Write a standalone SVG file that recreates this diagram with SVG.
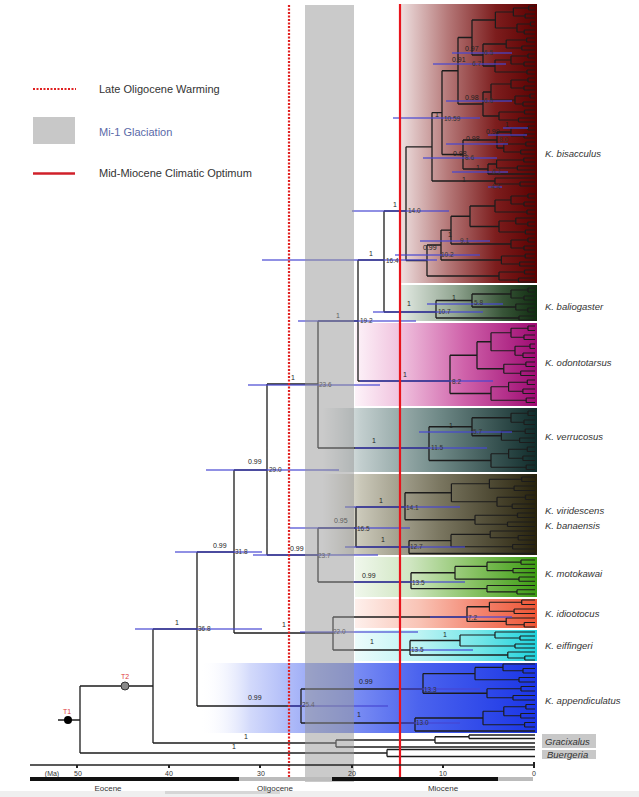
<svg xmlns="http://www.w3.org/2000/svg" xmlns:xlink="http://www.w3.org/1999/xlink" width="639" height="797" viewBox="0 0 639 797">
<style>
.br{fill:none;stroke:#1c1c1c;stroke-width:1.3}
.tp{fill:none;stroke:#1c1c1c;stroke-width:1.2;vector-effect:non-scaling-stroke}
.hpd{fill:none;stroke:#4646d2;stroke-width:2;opacity:.6}
.sup{font-family:"Liberation Sans",Arial,sans-serif;font-size:7px;fill:#222}
.age{font-family:"Liberation Sans",Arial,sans-serif;font-size:6.5px;fill:#333}
.cl{font-family:"Liberation Sans",Arial,sans-serif;font-size:9.5px;font-style:italic;fill:#333}
.leg{font-family:"Liberation Sans",Arial,sans-serif;font-size:11px;fill:#333}
.ax{font-family:"Liberation Sans",Arial,sans-serif;font-size:7px;fill:#333;text-anchor:middle}
.ep{font-family:"Liberation Sans",Arial,sans-serif;font-size:8px;fill:#333;text-anchor:middle}
.tl{font-family:"Liberation Sans",Arial,sans-serif;font-size:7px;fill:#e03c3c;text-anchor:middle}
</style>
<defs>
<linearGradient id="gBis" gradientUnits="userSpaceOnUse" x1="400" y1="0" x2="537" y2="0"><stop offset="0" stop-color="#efe1e1"/><stop offset=".35" stop-color="#b57878"/><stop offset=".7" stop-color="#7c1d1d"/><stop offset="1" stop-color="#5c0000"/></linearGradient>
<linearGradient id="gBal" gradientUnits="userSpaceOnUse" x1="400" y1="0" x2="537" y2="0"><stop offset="0" stop-color="#e4ebe4"/><stop offset=".4" stop-color="#92a692"/><stop offset=".75" stop-color="#385538"/><stop offset="1" stop-color="#0f2c0f"/></linearGradient>
<linearGradient id="gOdo" gradientUnits="userSpaceOnUse" x1="355" y1="0" x2="537" y2="0"><stop offset="0" stop-color="#fdf3f9"/><stop offset=".25" stop-color="#f0c2de"/><stop offset=".6" stop-color="#cf62aa"/><stop offset="1" stop-color="#9e0a72"/></linearGradient>
<linearGradient id="gVer" gradientUnits="userSpaceOnUse" x1="322" y1="0" x2="537" y2="0"><stop offset="0" stop-color="#c8d2d2" stop-opacity="0"/><stop offset=".18" stop-color="#c2cece"/><stop offset=".55" stop-color="#6e8886"/><stop offset="1" stop-color="#0f2b2a"/></linearGradient>
<linearGradient id="gVir" gradientUnits="userSpaceOnUse" x1="322" y1="0" x2="537" y2="0"><stop offset="0" stop-color="#cfcdc0" stop-opacity="0"/><stop offset=".18" stop-color="#c9c7b8"/><stop offset=".55" stop-color="#7a7660"/><stop offset="1" stop-color="#27220c"/></linearGradient>
<linearGradient id="gMot" gradientUnits="userSpaceOnUse" x1="355" y1="0" x2="537" y2="0"><stop offset="0" stop-color="#f0f7ec"/><stop offset=".3" stop-color="#d0e6c2"/><stop offset=".65" stop-color="#88c264"/><stop offset="1" stop-color="#3c9c12"/></linearGradient>
<linearGradient id="gIdi" gradientUnits="userSpaceOnUse" x1="355" y1="0" x2="537" y2="0"><stop offset="0" stop-color="#fef0ec"/><stop offset=".35" stop-color="#f9c4b6"/><stop offset=".7" stop-color="#f3826c"/><stop offset="1" stop-color="#ee5434"/></linearGradient>
<linearGradient id="gEif" gradientUnits="userSpaceOnUse" x1="355" y1="0" x2="537" y2="0"><stop offset="0" stop-color="#ecfcfc"/><stop offset=".35" stop-color="#bdf3f3"/><stop offset=".7" stop-color="#6fe5e7"/><stop offset="1" stop-color="#1ed3dd"/></linearGradient>
<linearGradient id="gApp" gradientUnits="userSpaceOnUse" x1="200" y1="0" x2="537" y2="0"><stop offset="0" stop-color="#ffffff" stop-opacity="0"/><stop offset=".15" stop-color="#d2d9fb"/><stop offset=".35" stop-color="#95a5f6"/><stop offset=".65" stop-color="#4b63ee"/><stop offset="1" stop-color="#1a35e6"/></linearGradient>
<path id="t2" class="tp" d="M-8 0H0M-8 4H0M-8 0V4"/>
<path id="t3" class="tp" d="M-16 0H0M-6 4H0M-6 8H0M-6 4V8M-16 6H-6M-16 0V6"/>
<path id="t4" class="tp" d="M-7 0H0M-7 4H0M-7 0V4M-11 8H0M-11 12H0M-11 8V12M-24 2H-7M-24 10H-11M-24 2V10"/>
<path id="t5" class="tp" d="M-16 0H0M-6 4H0M-6 8H0M-6 4V8M-16 6H-6M-16 0V6M-8 12H0M-8 16H0M-8 12V16M-30 3H-16M-30 14H-8M-30 3V14"/>
<path id="t6" class="tp" d="M-7 0H0M-7 4H0M-7 0V4M-11 8H0M-11 12H0M-11 8V12M-24 2H-7M-24 10H-11M-24 2V10M-8 16H0M-8 20H0M-8 16V20M-40 6H-24M-40 18H-8M-40 6V18"/>
<path id="t8" class="tp" d="M-7 0H0M-7 4H0M-7 0V4M-11 8H0M-11 12H0M-11 8V12M-24 2H-7M-24 10H-11M-24 2V10M-5 16H0M-5 20H0M-5 16V20M-12 24H0M-12 28H0M-12 24V28M-20 18H-5M-20 26H-12M-20 18V26M-44 6H-24M-44 22H-20M-44 6V22"/>
</defs>
<rect x="0" y="0" width="639" height="797" fill="#ffffff"/>

<g id="clade-bisacculus">
<rect x="400" y="4" width="137" height="279" fill="url(#gBis)"/>
<use href="#t8" transform="translate(535 6) scale(0.9 1)"/>
<use href="#t4" transform="translate(535 38) scale(1.2 1)"/>
<use href="#t6" transform="translate(535 54)"/>
<use href="#t8" transform="translate(535 78)"/>
<use href="#t4" transform="translate(535 110) scale(1.5 1)"/>
<use href="#t4" transform="translate(535 126)"/>
<use href="#t4" transform="translate(535 142) scale(1.3 1)"/>
<use href="#t4" transform="translate(535 158) scale(1.6 1)"/>
<use href="#t3" transform="translate(535 178) scale(2.5 1)"/>
<use href="#t6" transform="translate(535 194)"/>
<use href="#t5" transform="translate(535 218) scale(1.2 1)"/>
<use href="#t4" transform="translate(535 238)"/>
<use href="#t4" transform="translate(535 254) scale(1.4 1)"/>
<use href="#t4" transform="translate(535 270) scale(1.5 1)"/>
<path class="br" d="M483 44V66M483 44H506.2M483 66H495M472 20V55M472 20H495.4M472 55H483M483 92V116M483 92H491M483 116H499M458 37.5V104M458 37.5H472M458 104H483M497 132V148M497 132H511M497 148H503.8M488 164V174M488 164H496.6M488 174H535M463 140V169M463 140H497M463 169H488M442 70.75V154.5M442 70.75H458M442 154.5H463M432 112.6V181M432 112.6H442M432 181H495M470 206V226.5M470 206H495M470 226.5H499M451 216.25V244M451 216.25H470M451 244H511M441 230.1V260M441 230.1H451M441 260H501.4M427 245V276M427 245H441M427 276H499M406 146.8V260.5M406 146.8H432M406 260.5H427"/>
<text class="cl" x="545" y="157">K. bisacculus</text>
</g>

<g id="clade-baliogaster">
<rect x="400" y="285" width="137" height="36" fill="url(#gBal)"/>
<use href="#t4" transform="translate(535 288)"/>
<use href="#t3" transform="translate(535 304) scale(1.2 1)"/>
<use href="#t2" transform="translate(535 316) scale(2 1)"/>
<path class="br" d="M472 294V307M472 294H511M472 307H515.8M436 300.5V318M436 300.5H472M436 318H519"/>
<text class="cl" x="545" y="310">K. baliogaster</text>
</g>

<g id="clade-odontotarsus">
<rect x="355" y="323" width="182" height="83" fill="url(#gOdo)"/>
<use href="#t8" transform="translate(535 326) scale(1 1.125)"/>
<use href="#t4" transform="translate(535 362) scale(1.3 1.125)"/>
<use href="#t6" transform="translate(535 380) scale(1.1 1.125)"/>
<path class="br" d="M477 341.75V368.75M477 341.75H491M477 368.75H503.8M450 355.25V393.5M450 355.25H477M450 393.5H491"/>
<text class="cl" x="545" y="366">K. odontotarsus</text>
</g>

<g id="clade-verrucosus">
<rect x="322" y="408" width="215" height="64" fill="url(#gVer)"/>
<use href="#t4" transform="translate(535 411) scale(1 1.125)"/>
<use href="#t4" transform="translate(535 429) scale(1.4 1.125)"/>
<use href="#t6" transform="translate(535 447) scale(1.1 1.125)"/>
<path class="br" d="M472 417.75V435.75M472 417.75H511M472 435.75H501.4M429 426.75V460.5M429 426.75H472M429 460.5H491"/>
<text class="cl" x="545" y="440">K. verrucosus</text>
</g>

<g id="clade-viridescens">
<rect x="322" y="474" width="215" height="81" fill="url(#gVir)"/>
<use href="#t8" transform="translate(535 477) scale(1.9 1.125)"/>
<use href="#t4" transform="translate(535 513) scale(2.5 1.125)"/>
<use href="#t5" transform="translate(535 531) scale(2.8 1.125)"/>
<path class="br" d="M405 492.75V519.75M405 492.75H451.4M405 519.75H475M409 540.6V553.5M409 540.6H451M409 553.5H535"/>
<text class="cl" x="545" y="514">K. viridescens</text>
<text class="cl" x="545" y="529">K. banaensis</text>
</g>

<g id="clade-motokawai">
<rect x="355" y="557" width="182" height="40" fill="url(#gMot)"/>
<use href="#t6" transform="translate(535 560) scale(2 1.0625)"/>
<use href="#t3" transform="translate(535 585.5) scale(3 1.0625)"/>
<path class="br" d="M411 572.75V588.7M411 572.75H455M411 588.7H487"/>
<text class="cl" x="545" y="577">K. motokawai</text>
</g>

<g id="clade-idiootocus">
<rect x="355" y="599" width="182" height="29" fill="url(#gIdi)"/>
<use href="#t4" transform="translate(535 600) scale(1.9 1.125)"/>
<use href="#t3" transform="translate(535 618) scale(1.8 1.125)"/>
<path class="br" d="M467 606.75V621.4M467 606.75H489.4M467 621.4H506.2"/>
<text class="cl" x="545" y="617">K. idiootocus</text>
</g>

<g id="clade-eiffingeri">
<rect x="355" y="630" width="182" height="31" fill="url(#gEif)"/>
<use href="#t5" transform="translate(535 632) scale(2.5 1)"/>
<use href="#t3" transform="translate(535 652) scale(1.7 1)"/>
<path class="br" d="M410 640.5V655M410 640.5H460M410 655H507.8"/>
<text class="cl" x="545" y="649">K. eiffingeri</text>
</g>

<g id="clade-appendiculatus">
<rect x="200" y="663" width="337" height="70" fill="url(#gApp)"/>
<use href="#t5" transform="translate(535 664) scale(2 1.125)"/>
<use href="#t4" transform="translate(535 686.5) scale(2 1.125)"/>
<use href="#t6" transform="translate(535 704.5) scale(1.3 1.125)"/>
<path class="br" d="M423 673.56V693.25M423 673.56H475M423 693.25H487M415 718V731M415 718H483M415 731H535"/>
<text class="cl" x="545" y="704">K. appendiculatus</text>
</g>

<g id="clade-gracixalus">
<path class="br" d="M336 740V747M336 747H535M336 740H435M435 736.75V743M435 743H535M435 736.75H469M469 735V738.5M469 735H535M469 738.5H535"/>
<rect x="542" y="734" width="54" height="14" fill="#c8c8c8"/>
<text class="cl" x="545" y="744.5">Gracixalus</text>
</g>

<g id="clade-buergeria">
<path class="br" d="M387 749.5V756.5M387 749.5H535M387 756.5H535"/>
<rect x="542" y="750" width="54" height="9" fill="#c8c8c8"/>
<text class="cl" x="547" y="757.5">Buergeria</text>
</g>

<g id="connectors">
<path class="br" d="M384 211H406M384 211V312M384 312H436M358 260V381M358 260H384M358 381H450M318 321V448M318 321H358M318 448H429M267 384V555M267 384H318M267 555H318M318 528V582M318 528H356M318 582H411M356 507V547M356 507H405M356 547H409M234 470V633M234 470H267M234 633H333M333 617V650M333 617H467M333 650H410M197 552V706M197 552H234M197 706H301M301 689V723M301 689H423M301 723H415M153 629V743M153 629H197M153 743H336M80 686V753M80 686H153M80 753H387M58 720H80"/>
</g>

<g id="hpd-bars">
<path class="hpd" d="M452 53H512M433 64H506M446 101H512M393 118H480M503 128H528M488 135H527M446 144H508M423 158H497M452 172H508M488 187H502M352 211H449M420 241H490M395 255H480M262 260H437M427 304H503M373 312H483M298 321H416M360 381H493M248 385H380M419 432H512M355 448H487M206 470H339M345 507H460M290 528H410M345 547H465M175 552H262M253 555H378M353 582H465M430 617H512M135 629H262M300 632H418M410 650H473M400 689H480M290 706H388M400 723H460"/>
</g>

<g id="root-markers">
<circle cx="68" cy="720" r="4" fill="#000"/>
<circle cx="125" cy="686" r="4" fill="#8a8a8a" stroke="#333" stroke-width="1"/>
<text class="tl" x="67" y="714">T1</text>
<text class="tl" x="125" y="679">T2</text>
</g>

<g id="node-labels">
<text class="sup" x="465" y="51">0.97</text><text class="age" x="484" y="55">6.5</text>
<text class="sup" x="452" y="62">0.91</text><text class="age" x="472" y="66">6.7</text>
<text class="sup" x="465" y="100">0.98</text><text class="age" x="484" y="103">6.6</text>
<text class="sup" x="435" y="117">1</text><text class="age" x="444" y="121">10.59</text>
<text class="sup" x="505" y="127">1</text>
<text class="sup" x="486" y="134">0.99</text>
<text class="sup" x="466" y="141">0.98</text><text class="age" x="499" y="142">8.0</text>
<text class="sup" x="453" y="156">0.98</text><text class="age" x="465" y="160">8.6</text>
<text class="sup" x="476" y="170">1</text><text class="age" x="492" y="174">6.1</text>
<text class="sup" x="462" y="182">1</text><text class="age" x="491" y="189">4.4</text>
<text class="sup" x="393" y="207">1</text><text class="age" x="408" y="213">14.0</text>
<text class="sup" x="448" y="237">1</text><text class="age" x="460" y="243">9.1</text>
<text class="sup" x="423" y="250">0.99</text><text class="age" x="441" y="257">10.2</text>
<text class="sup" x="369" y="256">1</text><text class="age" x="386" y="263">16.4</text>
<text class="sup" x="452" y="300">1</text><text class="age" x="474" y="305">5.8</text>
<text class="sup" x="407" y="306">1</text><text class="age" x="438" y="314">10.7</text>
<text class="sup" x="336" y="318">1</text><text class="age" x="360" y="323">19.2</text>
<text class="sup" x="403" y="377">1</text><text class="age" x="452" y="384">8.2</text>
<text class="sup" x="291" y="380">1</text><text class="age" x="319" y="387">23.6</text>
<text class="sup" x="449" y="428">1</text><text class="age" x="473" y="434">5.7</text>
<text class="sup" x="372" y="443">1</text><text class="age" x="431" y="450">11.5</text>
<text class="sup" x="248" y="464">0.99</text><text class="age" x="269" y="472">29.0</text>
<text class="sup" x="379" y="503">1</text><text class="age" x="406" y="510">14.1</text>
<text class="sup" x="334" y="523">0.95</text><text class="age" x="357" y="531">16.5</text>
<text class="sup" x="381" y="542">1</text><text class="age" x="410" y="549">12.7</text>
<text class="sup" x="213" y="548">0.99</text><text class="age" x="235" y="554">31.8</text>
<text class="sup" x="290" y="551">0.99</text><text class="age" x="318" y="558">23.7</text>
<text class="sup" x="362" y="578">0.99</text><text class="age" x="412" y="585">13.5</text>
<text class="age" x="468" y="620">7.2</text>
<text class="sup" x="175" y="625">1</text><text class="age" x="198" y="631">36.8</text>
<text class="sup" x="282" y="627">1</text><text class="age" x="333" y="634">22.0</text>
<text class="sup" x="443" y="637">1</text>
<text class="sup" x="370" y="644">1</text><text class="age" x="411" y="652">13.5</text>
<text class="sup" x="359" y="684">0.99</text><text class="age" x="424" y="692">13.3</text>
<text class="sup" x="248" y="700">0.99</text><text class="age" x="302" y="707">25.4</text>
<text class="sup" x="357" y="717">1</text><text class="age" x="416" y="725">13.0</text>
<text class="sup" x="244" y="739">1</text>
<text class="sup" x="232" y="749">1</text>
</g>

<g id="mi1-glaciation">
<rect x="305" y="5" width="49" height="777" fill="#969696" opacity="0.5"/>
</g>
<g id="late-oligocene-warming">
<line x1="289" y1="5" x2="289" y2="780" stroke="#e02020" stroke-width="2.2" stroke-dasharray="2 1.5"/>
</g>
<g id="mid-miocene-optimum">
<line x1="400" y1="4" x2="400" y2="780" stroke="#e8141c" stroke-width="2.2"/>
</g>

<g id="legend">
<line x1="33" y1="89" x2="76" y2="89" stroke="#e02020" stroke-width="2" stroke-dasharray="2 1.5"/>
<text class="leg" x="99" y="93">Late Oligocene Warming</text>
<rect x="33" y="117" width="42" height="27" fill="#c8c8c8"/>
<text class="leg" x="99" y="136" style="fill:#5a6aa8">Mi-1 Glaciation</text>
<line x1="33" y1="173.5" x2="75" y2="173.5" stroke="#d0202a" stroke-width="2.5"/>
<text class="leg" x="99" y="177">Mid-Miocene Climatic Optimum</text>
</g>

<g id="time-axis">
<rect x="0" y="791" width="639" height="6" fill="#efefef"/>
<rect x="165" y="791" width="115" height="3" fill="#d6d6d6"/>
<line x1="30" y1="765" x2="535" y2="765" stroke="#222" stroke-width="1.5"/>
<path d="M77 765V768M169 765V768M260 765V768M352 765V768M443 765V768M534 762V768" stroke="#222" stroke-width="2"/>
<text class="ax" x="52" y="776">(Ma)</text>
<text class="ax" x="78" y="776">50</text>
<text class="ax" x="169" y="776">40</text>
<text class="ax" x="261" y="776">30</text>
<text class="ax" x="352" y="776">20</text>
<text class="ax" x="443" y="776">10</text>
<text class="ax" x="534" y="776">0</text>
<rect x="30" y="777" width="209" height="4" fill="#111"/>
<rect x="239" y="777" width="93" height="4" fill="#bbbbbb"/>
<rect x="332" y="777" width="166" height="4" fill="#111"/>
<rect x="498" y="777" width="35" height="4" fill="#bbbbbb"/>
<text class="ep" x="108" y="790.5">Eocene</text>
<text class="ep" x="275" y="790.5">Oligocene</text>
<text class="ep" x="443" y="790.5">Miocene</text>
</g>
</svg>
